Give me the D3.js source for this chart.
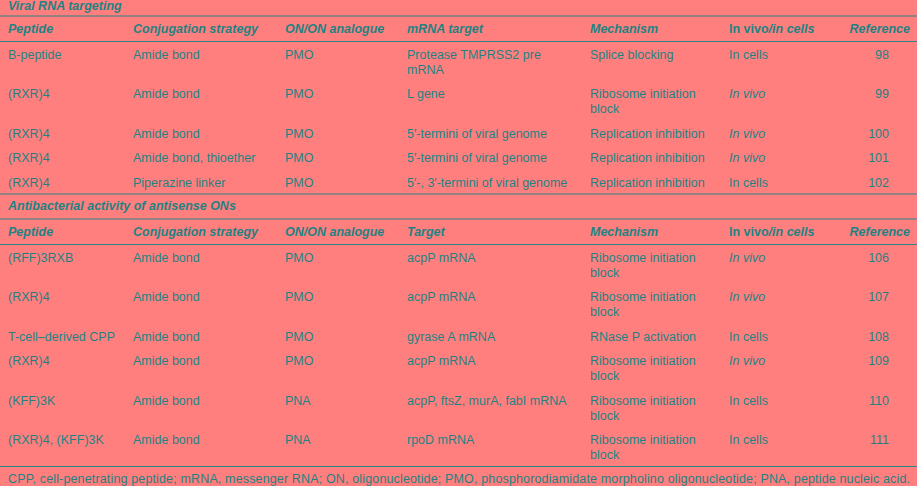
<!DOCTYPE html>
<html><head><meta charset="utf-8">
<script src="https://cdn.jsdelivr.net/npm/d3@7"></script>
<style>
html,body{margin:0;padding:0;background:#ff7f7f;}
svg{display:block;}
text{font-family:"Liberation Sans",Arial,Helvetica,sans-serif;font-size:12.5px;fill:#1f8282;}
</style></head>
<body><svg id="chart" width="917" height="486"></svg>
<script>
// ---- data ----
const sectionTitles = ["Viral RNA targeting", "Antibacterial activity of antisense ONs"];
const headersViral = ["Peptide", "Conjugation strategy", "ON/ON analogue", "mRNA target", "Mechanism", "In vivo/in cells", "Reference"];
const headersBacterial = ["Peptide", "Conjugation strategy", "ON/ON analogue", "Target", "Mechanism", "In vivo/in cells", "Reference"];
const viralRows = [
  ["B-peptide", "Amide bond", "PMO", "Protease TMPRSS2 pre\nmRNA", "Splice blocking", "In cells", "98"],
  ["(RXR)4", "Amide bond", "PMO", "L gene", "Ribosome initiation\nblock", "In vivo", "99"],
  ["(RXR)4", "Amide bond", "PMO", "5\u2032-termini of viral genome", "Replication inhibition", "In vivo", "100"],
  ["(RXR)4", "Amide bond, thioether", "PMO", "5\u2032-termini of viral genome", "Replication inhibition", "In vivo", "101"],
  ["(RXR)4", "Piperazine linker", "PMO", "5\u2032-, 3\u2032-termini of viral genome", "Replication inhibition", "In cells", "102"]
];
const bacterialRows = [
  ["(RFF)3RXB", "Amide bond", "PMO", "acpP mRNA", "Ribosome initiation\nblock", "In vivo", "106"],
  ["(RXR)4", "Amide bond", "PMO", "acpP mRNA", "Ribosome initiation\nblock", "In vivo", "107"],
  ["T-cell\u2013derived CPP", "Amide bond", "PMO", "gyrase A mRNA", "RNase P activation", "In cells", "108"],
  ["(RXR)4", "Amide bond", "PMO", "acpP mRNA", "Ribosome initiation\nblock", "In vivo", "109"],
  ["(KFF)3K", "Amide bond", "PNA", "acpP, ftsZ, murA, fabI mRNA", "Ribosome initiation\nblock", "In cells", "110"],
  ["(RXR)4, (KFF)3K", "Amide bond", "PNA", "rpoD mRNA", "Ribosome initiation\nblock", "In cells", "111"]
];
const footnote = "CPP, cell-penetrating peptide; mRNA, messenger RNA; ON, oligonucleotide; PMO, phosphorodiamidate morpholino oligonucleotide; PNA, peptide nucleic acid.";

// ---- layout ----
const W = 917;
const colX = [8, 133, 285, 407, 590, 729, 889];
const lineColor = "#2a8585";
const titleBand = 25, headerBand = 25.5, rowBase = 24.5, lineStep = 15, baseOff = 17;
const titleBaseOff = [18.5, 16.3];
const svg = d3.select("#chart");

const sections = [
  {title: sectionTitles[0], headers: headersViral, rows: viralRows},
  {title: sectionTitles[1], headers: headersBacterial, rows: bacterialRows}
];

let y = -9;
function hline(yy){
  svg.append("line").attr("x1",0).attr("x2",W).attr("y1",yy).attr("y2",yy)
    .attr("stroke",lineColor).attr("stroke-width",1.2);
}
function headerText(g, h, i, by){
  const t = g.append("text").attr("y", by).style("font-weight","bold");
  if (i === 6) {
    t.attr("x", W - 7).attr("text-anchor","end").style("font-style","italic").text(h);
  } else if (h === "In vivo/in cells") {
    t.attr("x", colX[i]);
    t.append("tspan").text("In vivo");
    t.append("tspan").style("font-style","italic").text("/in cells");
  } else {
    t.attr("x", colX[i]).style("font-style","italic").text(h);
  }
}

sections.forEach((sec, si) => {
  if (si > 0) hline(y);
  svg.append("text").attr("x", colX[0]).attr("y", y + titleBaseOff[si])
    .style("font-weight","bold").style("font-style","italic").text(sec.title);
  y += titleBand;
  hline(y);
  const hg = svg.append("g");
  sec.headers.forEach((h, i) => headerText(hg, h, i, y + 16.8));
  y += headerBand;
  hline(y);
  sec.rows.forEach(row => {
    const nLines = d3.max(row, c => c.split("\n").length);
    const top = y;
    row.forEach((cell, i) => {
      const t = svg.append("text").attr("x", colX[i]).attr("y", top + baseOff);
      if (i === 6) t.attr("text-anchor","end");
      if (cell === "In vivo") t.style("font-style","italic");
      cell.split("\n").forEach((ln, k) => {
        t.append("tspan").attr("x", colX[i]).attr("y", top + baseOff + k*lineStep).text(ln);
      });
    });
    y += rowBase + (nLines - 1) * lineStep;
  });
});
hline(y);
svg.append("text").attr("x", colX[0]).attr("y", y + 16.5)
  .attr("textLength", 902).attr("lengthAdjust", "spacing").text(footnote);
</script></body></html>
